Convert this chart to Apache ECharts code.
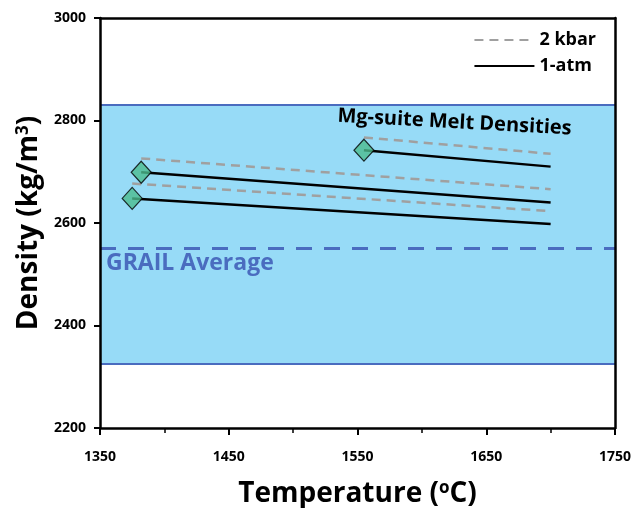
<!DOCTYPE html>
<html>
<head>
<meta charset="utf-8">
<script src="https://cdn.jsdelivr.net/npm/echarts@6/dist/echarts.min.js"></script>
<style>
  html, body { margin: 0; padding: 0; background: #fff; }
  #main { width: 637px; height: 508px; }
</style>
</head>
<body>
<div id="main"></div>
<script>
// melt density runs (start / end temperature)
var startTemps = [1382, 1375, 1555];
var endTemps = [1700, 1700, 1700];
var atmStart = [2699, 2648, 2742];
var atmEnd = [2640, 2598, 2710];
var kbarStart = [2726, 2677, 2767];
var kbarEnd = [2666, 2623, 2735];
// GRAIL crust density band
var grailLow = 2325;
var grailHigh = 2830;
var grailAvg = 2550;

var xTicks = [1350, 1450, 1550, 1650, 1750];
var yTicks = [2200, 2400, 2600, 2800, 3000];

var FONT = 'Open Sans';
var BLUE = '#4a6cbf';

var chart = echarts.init(document.getElementById('main'));

var series = [];
// background band + GRAIL lines
series.push({
  type: 'line',
  data: [],
  z: 1,
  markArea: {
    silent: true,
    itemStyle: { color: '#97dbf7', opacity: 1 },
    data: [[{ xAxis: xTicks[0], yAxis: grailLow }, { xAxis: xTicks[4], yAxis: grailHigh }]]
  },
  markLine: {
    silent: true,
    symbol: 'none',
    label: { show: false },
    data: [
      { yAxis: grailHigh, lineStyle: { color: BLUE, width: 2, type: 'solid' } },
      { yAxis: grailLow, lineStyle: { color: BLUE, width: 2, type: 'solid' } },
      { yAxis: grailAvg, lineStyle: { color: BLUE, width: 3, type: [16, 12] } }
    ]
  }
});
for (var i = 0; i < startTemps.length; i++) {
  series.push({
    name: '2 kbar',
    type: 'line',
    symbol: 'none',
    z: 3,
    lineStyle: { color: '#a0a0a0', width: 2.5, type: [9, 6] },
    itemStyle: { color: '#a0a0a0' },
    data: [[startTemps[i], kbarStart[i]], [endTemps[i], kbarEnd[i]]]
  });
  series.push({
    name: '1-atm',
    type: 'line',
    symbol: 'none',
    z: 3,
    lineStyle: { color: '#000', width: 2.5 },
    itemStyle: { color: '#000' },
    data: [[startTemps[i], atmStart[i]], [endTemps[i], atmEnd[i]]]
  });
}
series.push({
  type: 'scatter',
  symbol: 'diamond',
  symbolSize: [20, 22],
  z: 4,
  itemStyle: { color: '#4cbc8e', borderColor: '#000', borderWidth: 1.2 },
  data: startTemps.map(function (t, i) { return [t, atmStart[i]]; })
});

var axisLine = { show: true, lineStyle: { color: '#000', width: 2.5 } };
var plain = function (v) { return String(v); };

chart.setOption({
  animation: false,
  grid: { left: 100, right: 22, top: 18, bottom: 80, containLabel: false, outerBoundsMode: 'none' },
  legend: {
    orient: 'vertical',
    right: 36,
    top: 26,
    itemWidth: 60,
    itemHeight: 12,
    itemGap: 8,
    itemStyle: { opacity: 0 },
    data: ['2 kbar', '1-atm'],
    textStyle: { fontFamily: FONT, fontWeight: 'bold', fontSize: 18, color: '#000' }
  },
  xAxis: [{
    type: 'value',
    min: 1350, max: 1750, interval: 100,
    z: 10,
    axisLine: axisLine,
    axisTick: { show: true, inside: false, length: 7, lineStyle: { color: '#000', width: 2 } },
    minorTick: { show: true, splitNumber: 2, length: 5, lineStyle: { color: '#000', width: 1.5 } },
    splitLine: { show: false },
    axisLabel: { margin: 22, formatter: plain, fontFamily: FONT, fontWeight: 'bold', fontSize: 14, color: '#000' },
    name: '{t|Temperature (}{s|o}{t|C)}',
    nameLocation: 'middle',
    nameGap: 52,
    nameTextStyle: {
      rich: {
        t: { fontFamily: FONT, fontWeight: 'bold', fontSize: 28, color: '#000' },
        s: { fontFamily: FONT, fontWeight: 'bold', fontSize: 17, color: '#000', verticalAlign: 'top', padding: [0, 0, 12, 0] }
      }
    }
  }, {
    type: 'value', position: 'top',
    min: 1350, max: 1750, z: 10,
    axisLine: axisLine, axisTick: { show: false }, axisLabel: { show: false }, splitLine: { show: false }
  }],
  yAxis: [{
    type: 'value',
    min: 2200, max: 3000, interval: 200,
    z: 10,
    axisLine: axisLine,
    axisTick: { show: true, inside: false, length: 6, lineStyle: { color: '#000', width: 2 } },
    splitLine: { show: false },
    axisLabel: { margin: 14, formatter: plain, fontFamily: FONT, fontWeight: 'bold', fontSize: 14, color: '#000' },
    name: '{t|Density (kg/m}{s|3}{t|)}',
    nameLocation: 'middle',
    nameGap: 56,
    nameRotate: 90,
    nameTextStyle: {
      rich: {
        t: { fontFamily: FONT, fontWeight: 'bold', fontSize: 28, color: '#000' },
        s: { fontFamily: FONT, fontWeight: 'bold', fontSize: 17, color: '#000', verticalAlign: 'top', padding: [0, 0, 12, 0] }
      }
    }
  }, {
    type: 'value', position: 'right',
    min: 2200, max: 3000, z: 10,
    axisLine: axisLine, axisTick: { show: false }, axisLabel: { show: false }, splitLine: { show: false }
  }],
  graphic: [{
    type: 'text',
    x: 338, y: 106,
    rotation: -0.055,
    z: 20,
    style: { text: 'Mg-suite Melt Densities', fontFamily: FONT, fontWeight: 'bold', fontSize: 20, fill: '#000' }
  }, {
    type: 'text',
    x: 106, y: 252,
    z: 20,
    style: { text: 'GRAIL Average', fontFamily: FONT, fontWeight: 'bold', fontSize: 23, fill: BLUE }
  }],
  series: series
});
</script>
</body>
</html>
